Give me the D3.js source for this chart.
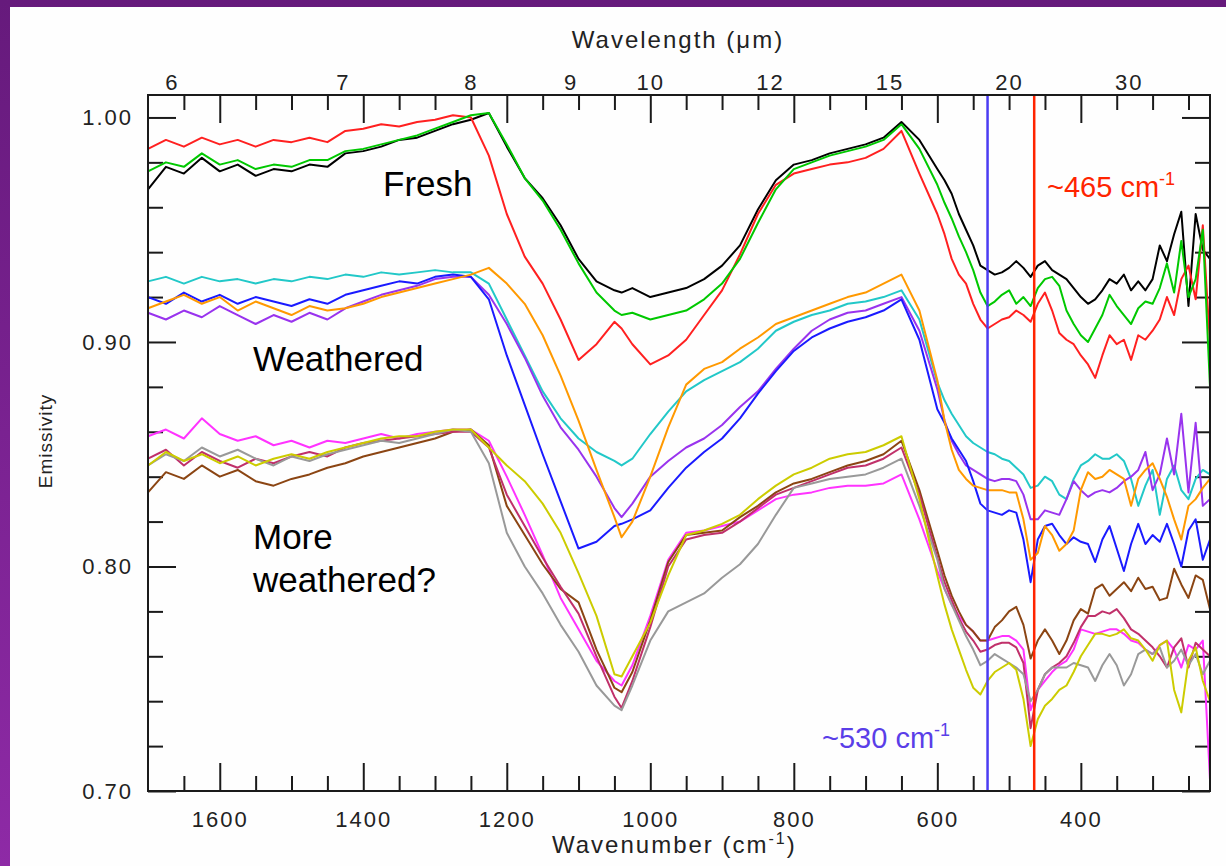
<!DOCTYPE html>
<html>
<head>
<meta charset="utf-8">
<script src="https://cdn.jsdelivr.net/npm/d3@7"></script>
<style>
  body { margin: 0; background: #fff; }
  svg { display: block; }
</style>
</head>
<body>
<svg></svg>
<script>
const width = 1226;
const height = 866;

// wavenumber grid (cm-1), left to right
const wavenumber = [1700, 1675, 1650, 1625, 1600, 1575, 1550, 1525, 1500, 1475, 1450, 1425, 1400, 1375, 1350, 1325, 1300, 1275, 1250, 1225, 1200, 1175, 1150, 1125, 1100, 1075, 1050, 1040,
  1025, 1000, 975, 950, 925, 900, 875, 850, 825, 800, 775, 750, 725, 700, 675, 650, 625, 600,
  590, 580, 570, 560, 550, 540, 530, 520, 510, 500, 490, 480, 470, 460, 450, 440, 430, 420, 410, 400, 390, 380, 370, 360, 350, 340, 330, 320, 310, 300, 290, 280, 270, 260, 250, 240, 230, 220];

// fresh
const black = [0.968, 0.978, 0.975, 0.982, 0.976, 0.979, 0.974, 0.977, 0.976, 0.979, 0.978, 0.984, 0.985, 0.987, 0.990, 0.991, 0.994, 0.997, 0.999, 1.002, 0.987, 0.973, 0.964, 0.952, 0.937, 0.927, 0.923, 0.922,
  0.924, 0.920, 0.922, 0.924, 0.928, 0.934, 0.943, 0.959, 0.972, 0.979, 0.981, 0.984, 0.986, 0.988, 0.991, 0.998, 0.990, 0.977,
  0.972, 0.966, 0.957, 0.950, 0.943, 0.934, 0.932, 0.930, 0.931, 0.933, 0.936, 0.933, 0.929, 0.934, 0.936, 0.932, 0.930, 0.928, 0.924, 0.920, 0.917, 0.919, 0.923, 0.928, 0.926, 0.930, 0.923, 0.927, 0.923, 0.928, 0.943, 0.936, 0.948, 0.958, 0.916, 0.957, 0.941, 0.937];
const red = [0.986, 0.990, 0.987, 0.991, 0.988, 0.990, 0.987, 0.990, 0.989, 0.991, 0.989, 0.994, 0.995, 0.997, 0.996, 0.998, 0.999, 1.001, 1.000, 0.983, 0.957, 0.938, 0.926, 0.910, 0.892, 0.899, 0.909, 0.906,
  0.899, 0.890, 0.894, 0.901, 0.912, 0.923, 0.939, 0.957, 0.970, 0.975, 0.977, 0.979, 0.980, 0.982, 0.986, 0.994, 0.975, 0.957,
  0.948, 0.937, 0.930, 0.926, 0.917, 0.910, 0.906, 0.908, 0.910, 0.911, 0.914, 0.912, 0.909, 0.917, 0.922, 0.914, 0.904, 0.901, 0.899, 0.894, 0.890, 0.884, 0.894, 0.903, 0.899, 0.901, 0.892, 0.903, 0.901, 0.905, 0.910, 0.920, 0.912, 0.928, 0.934, 0.919, 0.952, 0.899];
const green = [0.976, 0.980, 0.978, 0.984, 0.979, 0.981, 0.977, 0.979, 0.978, 0.981, 0.981, 0.985, 0.986, 0.988, 0.990, 0.992, 0.995, 0.998, 1.001, 1.002, 0.988, 0.973, 0.963, 0.950, 0.935, 0.922, 0.914, 0.912,
  0.913, 0.910, 0.912, 0.914, 0.919, 0.926, 0.937, 0.953, 0.968, 0.977, 0.980, 0.983, 0.985, 0.987, 0.990, 0.997, 0.986, 0.970,
  0.962, 0.955, 0.947, 0.940, 0.932, 0.922, 0.916, 0.918, 0.921, 0.923, 0.917, 0.920, 0.916, 0.924, 0.928, 0.929, 0.925, 0.914, 0.908, 0.903, 0.900, 0.906, 0.912, 0.921, 0.916, 0.912, 0.908, 0.915, 0.918, 0.917, 0.924, 0.935, 0.922, 0.945, 0.920, 0.928, 0.950, 0.880];

// weathered
const cyan = [0.927, 0.929, 0.926, 0.929, 0.927, 0.928, 0.926, 0.928, 0.927, 0.929, 0.928, 0.930, 0.929, 0.931, 0.930, 0.931, 0.932, 0.931, 0.931, 0.926, 0.910, 0.894, 0.878, 0.866, 0.857, 0.851, 0.847, 0.845,
  0.848, 0.859, 0.869, 0.878, 0.883, 0.887, 0.891, 0.897, 0.905, 0.909, 0.912, 0.914, 0.917, 0.918, 0.920, 0.923, 0.910, 0.882,
  0.874, 0.868, 0.863, 0.858, 0.855, 0.853, 0.851, 0.850, 0.848, 0.847, 0.844, 0.841, 0.835, 0.836, 0.840, 0.838, 0.832, 0.830, 0.839, 0.845, 0.847, 0.850, 0.848, 0.848, 0.850, 0.847, 0.839, 0.827, 0.836, 0.843, 0.823, 0.839, 0.845, 0.834, 0.830, 0.839, 0.843, 0.841];
const purple = [0.913, 0.910, 0.914, 0.911, 0.916, 0.912, 0.908, 0.912, 0.909, 0.913, 0.910, 0.915, 0.918, 0.921, 0.923, 0.925, 0.928, 0.929, 0.929, 0.921, 0.908, 0.893, 0.876, 0.862, 0.852, 0.840, 0.826, 0.822,
  0.828, 0.840, 0.847, 0.853, 0.857, 0.863, 0.871, 0.878, 0.888, 0.897, 0.905, 0.910, 0.913, 0.914, 0.917, 0.920, 0.905, 0.879,
  0.865, 0.856, 0.850, 0.845, 0.843, 0.841, 0.839, 0.838, 0.839, 0.839, 0.838, 0.832, 0.821, 0.821, 0.825, 0.824, 0.823, 0.830, 0.838, 0.834, 0.831, 0.833, 0.834, 0.833, 0.835, 0.838, 0.840, 0.843, 0.851, 0.834, 0.841, 0.857, 0.841, 0.868, 0.833, 0.864, 0.827, 0.830];
const blue = [0.920, 0.917, 0.922, 0.918, 0.921, 0.917, 0.920, 0.918, 0.916, 0.919, 0.917, 0.921, 0.923, 0.925, 0.927, 0.926, 0.929, 0.930, 0.929, 0.919, 0.894, 0.872, 0.850, 0.829, 0.808, 0.811, 0.818, 0.819,
  0.821, 0.825, 0.835, 0.844, 0.851, 0.857, 0.866, 0.877, 0.887, 0.896, 0.902, 0.906, 0.909, 0.911, 0.914, 0.919, 0.901, 0.870,
  0.864, 0.857, 0.852, 0.847, 0.838, 0.828, 0.825, 0.824, 0.823, 0.825, 0.824, 0.812, 0.793, 0.812, 0.818, 0.819, 0.814, 0.810, 0.813, 0.811, 0.810, 0.802, 0.812, 0.818, 0.808, 0.798, 0.810, 0.819, 0.810, 0.814, 0.811, 0.819, 0.810, 0.800, 0.816, 0.821, 0.803, 0.812];
const orange = [0.915, 0.918, 0.921, 0.917, 0.920, 0.914, 0.918, 0.915, 0.912, 0.916, 0.914, 0.915, 0.917, 0.920, 0.922, 0.924, 0.926, 0.928, 0.930, 0.933, 0.926, 0.917, 0.903, 0.885, 0.865, 0.843, 0.822, 0.813,
  0.820, 0.840, 0.862, 0.881, 0.888, 0.891, 0.897, 0.902, 0.908, 0.911, 0.914, 0.917, 0.920, 0.922, 0.926, 0.930, 0.914, 0.883,
  0.865, 0.852, 0.843, 0.839, 0.836, 0.835, 0.834, 0.834, 0.834, 0.833, 0.833, 0.821, 0.803, 0.806, 0.818, 0.814, 0.807, 0.810, 0.816, 0.834, 0.842, 0.839, 0.840, 0.843, 0.841, 0.839, 0.827, 0.839, 0.843, 0.846, 0.839, 0.831, 0.821, 0.812, 0.827, 0.830, 0.835, 0.839];

// more weathered
const magenta = [0.858, 0.861, 0.857, 0.866, 0.859, 0.856, 0.858, 0.854, 0.856, 0.853, 0.856, 0.855, 0.857, 0.859, 0.857, 0.859, 0.860, 0.861, 0.861, 0.856, 0.840, 0.823, 0.805, 0.786, 0.772, 0.758, 0.749, 0.747,
  0.756, 0.778, 0.803, 0.815, 0.816, 0.818, 0.820, 0.825, 0.830, 0.832, 0.833, 0.835, 0.836, 0.836, 0.837, 0.841, 0.821, 0.798,
  0.790, 0.783, 0.778, 0.774, 0.771, 0.767, 0.767, 0.768, 0.769, 0.769, 0.767, 0.763, 0.736, 0.745, 0.749, 0.753, 0.756, 0.758, 0.763, 0.772, 0.771, 0.770, 0.771, 0.772, 0.772, 0.770, 0.767, 0.766, 0.763, 0.761, 0.765, 0.767, 0.763, 0.755, 0.765, 0.763, 0.767, 0.705];
const brown = [0.833, 0.842, 0.839, 0.845, 0.840, 0.843, 0.838, 0.836, 0.839, 0.841, 0.844, 0.846, 0.849, 0.851, 0.853, 0.855, 0.857, 0.860, 0.861, 0.854, 0.827, 0.814, 0.801, 0.790, 0.784, 0.763, 0.746, 0.744,
  0.753, 0.776, 0.802, 0.814, 0.815, 0.816, 0.822, 0.827, 0.833, 0.837, 0.839, 0.842, 0.845, 0.847, 0.850, 0.856, 0.834, 0.807,
  0.796, 0.787, 0.780, 0.774, 0.771, 0.767, 0.767, 0.773, 0.776, 0.780, 0.782, 0.774, 0.759, 0.767, 0.772, 0.767, 0.761, 0.767, 0.776, 0.781, 0.779, 0.790, 0.792, 0.787, 0.790, 0.793, 0.789, 0.795, 0.790, 0.791, 0.785, 0.786, 0.799, 0.792, 0.786, 0.796, 0.794, 0.781];
const maroon = [0.848, 0.852, 0.845, 0.851, 0.847, 0.844, 0.848, 0.846, 0.849, 0.851, 0.849, 0.853, 0.855, 0.856, 0.857, 0.858, 0.859, 0.860, 0.860, 0.853, 0.832, 0.818, 0.804, 0.791, 0.779, 0.760, 0.742, 0.737,
  0.749, 0.773, 0.800, 0.812, 0.814, 0.815, 0.820, 0.826, 0.832, 0.835, 0.838, 0.841, 0.844, 0.845, 0.848, 0.853, 0.832, 0.804,
  0.793, 0.785, 0.777, 0.771, 0.767, 0.762, 0.763, 0.765, 0.766, 0.766, 0.764, 0.757, 0.728, 0.745, 0.752, 0.755, 0.757, 0.760, 0.766, 0.773, 0.778, 0.778, 0.780, 0.779, 0.781, 0.777, 0.772, 0.770, 0.767, 0.764, 0.760, 0.755, 0.764, 0.768, 0.755, 0.766, 0.763, 0.760];
const gray = [0.845, 0.850, 0.847, 0.853, 0.849, 0.852, 0.848, 0.845, 0.849, 0.847, 0.850, 0.852, 0.854, 0.856, 0.855, 0.857, 0.859, 0.861, 0.860, 0.846, 0.815, 0.800, 0.788, 0.774, 0.762, 0.747, 0.738, 0.736,
  0.747, 0.767, 0.780, 0.784, 0.788, 0.795, 0.801, 0.810, 0.823, 0.835, 0.837, 0.839, 0.840, 0.841, 0.844, 0.848, 0.827, 0.803,
  0.790, 0.783, 0.776, 0.769, 0.763, 0.756, 0.758, 0.761, 0.759, 0.757, 0.755, 0.752, 0.740, 0.745, 0.752, 0.755, 0.755, 0.755, 0.757, 0.756, 0.755, 0.749, 0.756, 0.761, 0.756, 0.747, 0.752, 0.761, 0.763, 0.761, 0.764, 0.755, 0.758, 0.763, 0.756, 0.761, 0.752, 0.758];
const yellow = [0.845, 0.851, 0.847, 0.850, 0.846, 0.849, 0.845, 0.848, 0.850, 0.848, 0.851, 0.853, 0.855, 0.857, 0.858, 0.858, 0.860, 0.861, 0.861, 0.853, 0.845, 0.838, 0.828, 0.815, 0.797, 0.778, 0.752, 0.751,
  0.760, 0.775, 0.796, 0.814, 0.816, 0.819, 0.823, 0.830, 0.836, 0.841, 0.844, 0.848, 0.850, 0.851, 0.854, 0.858, 0.830, 0.796,
  0.783, 0.772, 0.763, 0.754, 0.746, 0.743, 0.749, 0.753, 0.755, 0.757, 0.754, 0.741, 0.720, 0.732, 0.738, 0.741, 0.745, 0.747, 0.753, 0.760, 0.765, 0.770, 0.770, 0.769, 0.770, 0.772, 0.768, 0.767, 0.763, 0.758, 0.765, 0.767, 0.745, 0.735, 0.758, 0.764, 0.749, 0.740];

const wavelengthLabels = [6, 7, 8, 9, 10, 12, 15, 20, 30];
const wavenumberLabels = [1600, 1400, 1200, 1000, 800, 600, 400];
const emissivityLabels = [0.7, 0.8, 0.9, 1.0];
const markerWavenumbers = [530, 465];

const curves = [
  { values: magenta, color: "#ff33ff" },
  { values: brown, color: "#8b4513" },
  { values: maroon, color: "#c0306a" },
  { values: gray, color: "#999999" },
  { values: yellow, color: "#cccc00" },
  { values: cyan, color: "#22c8c8" },
  { values: purple, color: "#9933ee" },
  { values: blue, color: "#1a1aff" },
  { values: orange, color: "#ff9900" },
  { values: black, color: "#000000" },
  { values: red, color: "#ff2020" },
  { values: green, color: "#00c800" },
];

let svg = d3.select("svg").attr("width", width).attr("height", height);

// slide background
const grad = svg.append("defs").append("linearGradient")
  .attr("id", "slide").attr("x1", 0).attr("y1", 0).attr("x2", 0).attr("y2", 1);
grad.append("stop").attr("offset", "0%").attr("stop-color", "#661a7c");
grad.append("stop").attr("offset", "100%").attr("stop-color", "#8e2aa6");
svg.append("rect").attr("width", width).attr("height", height).attr("fill", "url(#slide)");
svg.append("rect").attr("x", 10).attr("y", 7).attr("width", width - 10).attr("height", height - 7).attr("fill", "#fefefe");

const x = d3.scaleLinear().domain([1700, 220]).range([148, 1210]);
const y = d3.scaleLinear().domain([0.70, 1.01]).range([791, 95]);

const tickFont = "Liberation Sans, Arial, sans-serif";

// minor tick positions
const xMinor = d3.range(1650, 220, -50).filter((d) => d % 200 !== 0);
const yMinor = d3.range(72, 101, 2).filter((d) => d % 10 !== 0).map((d) => d / 100);

function styleAxis(g) {
  g.select(".domain").remove();
  g.selectAll("line").attr("stroke", "#1a1a1a").attr("stroke-width", 2);
  g.selectAll("text")
    .attr("fill", "#222")
    .style("font-family", tickFont)
    .style("font-size", "22px")
    .style("letter-spacing", "2px");
}

const bottomPos = "translate(0,791)";
const topPos = "translate(0,95)";
svg.append("g").attr("transform", bottomPos)
  .call(d3.axisBottom(x).tickValues(wavenumberLabels).tickSizeInner(-28).tickSizeOuter(0).tickPadding(20).tickFormat(d3.format("d")))
  .call(styleAxis);
svg.append("g").attr("transform", bottomPos)
  .call(d3.axisBottom(x).tickValues(xMinor).tickSizeInner(-15).tickSizeOuter(0).tickFormat(""))
  .call(styleAxis);
svg.append("g").attr("transform", topPos)
  .call(d3.axisTop(x).tickValues(wavenumberLabels).tickSizeInner(-28).tickSizeOuter(0).tickFormat(""))
  .call(styleAxis);
svg.append("g").attr("transform", topPos)
  .call(d3.axisTop(x).tickValues(xMinor).tickSizeInner(-15).tickSizeOuter(0).tickFormat(""))
  .call(styleAxis);
// wavelength labels on top, no ticks
svg.append("g").attr("transform", topPos)
  .call(d3.axisTop(x).tickValues(wavelengthLabels.map((w) => 10000 / w)).tickSize(0).tickPadding(5)
    .tickFormat((d) => Math.round(10000 / d)))
  .call(styleAxis);

svg.append("g").attr("transform", "translate(148,0)")
  .call(d3.axisLeft(y).tickValues(emissivityLabels).tickSizeInner(-28).tickSizeOuter(0).tickPadding(15).tickFormat(d3.format(".2f")))
  .call(styleAxis);
svg.append("g").attr("transform", "translate(148,0)")
  .call(d3.axisLeft(y).tickValues(yMinor).tickSizeInner(-15).tickSizeOuter(0).tickFormat(""))
  .call(styleAxis);
svg.append("g").attr("transform", "translate(1210,0)")
  .call(d3.axisRight(y).tickValues(emissivityLabels).tickSizeInner(-28).tickSizeOuter(0).tickFormat(""))
  .call(styleAxis);
svg.append("g").attr("transform", "translate(1210,0)")
  .call(d3.axisRight(y).tickValues(yMinor).tickSizeInner(-15).tickSizeOuter(0).tickFormat(""))
  .call(styleAxis);

// spectra
let line = d3.line()
  .x((d, i) => x(wavenumber[i]))
  .y((d) => y(d));

svg.append("g")
  .selectAll("path")
  .data(curves)
  .join("path")
  .attr("d", (c) => line(c.values))
  .attr("fill", "none")
  .attr("stroke", (c) => c.color)
  .attr("stroke-width", 2)
  .attr("stroke-linejoin", "round");

// marker lines at ~530 and ~465
const markerColors = ["#4b3cf2", "#ff2400"];
svg.append("g")
  .selectAll("line")
  .data(markerWavenumbers)
  .join("line")
  .attr("x1", (d) => x(d)).attr("x2", (d) => x(d))
  .attr("y1", y(1.01)).attr("y2", y(0.70))
  .attr("stroke", (d, i) => markerColors[i])
  .attr("stroke-width", 2.5);

// frame
svg.append("rect")
  .attr("x", 148).attr("y", 95).attr("width", 1210 - 148).attr("height", 791 - 95)
  .attr("fill", "none").attr("stroke", "#1a1a1a").attr("stroke-width", 2);

// axis titles
svg.append("text").attr("x", 678).attr("y", 48).attr("text-anchor", "middle")
  .style("font-family", tickFont).style("font-size", "24px").style("letter-spacing", "2px").attr("fill", "#222")
  .text("Wavelength (\u03bcm)");

let xTitle = svg.append("text").attr("x", 552).attr("y", 853)
  .style("font-family", tickFont).style("font-size", "24px").style("letter-spacing", "2px").attr("fill", "#222");
xTitle.append("tspan").text("Wavenumber (cm");
xTitle.append("tspan").attr("dy", -9).style("font-size", "16px").text("-1");
xTitle.append("tspan").attr("dy", 9).text(")");

svg.append("text").attr("transform", "translate(52,441) rotate(-90)").attr("text-anchor", "middle")
  .style("font-family", tickFont).style("font-size", "19px").style("letter-spacing", "1px").attr("fill", "#222")
  .text("Emissivity");

// group annotations
const noteFont = "Liberation Sans, Arial, sans-serif";
function note(tx, ty, str, size, color) {
  return svg.append("text").attr("x", tx).attr("y", ty)
    .style("font-family", noteFont).style("font-size", size + "px").attr("fill", color).text(str);
}
note(383, 196, "Fresh", 35, "#000");
note(253, 371, "Weathered", 35, "#000");
note(253, 549, "More", 35, "#000");
note(253, 592, "weathered?", 35, "#000");

function cmNote(tx, ty, str, color) {
  let t = svg.append("text").attr("x", tx).attr("y", ty)
    .style("font-family", noteFont).style("font-size", "29px").attr("fill", color);
  t.append("tspan").text(str + " cm");
  t.append("tspan").attr("dy", -12).style("font-size", "18px").text("-1");
}
cmNote(1047, 197, "~465", "#ff2400");
cmNote(822, 748, "~530", "#5a3ee8");
</script>
</body>
</html>
